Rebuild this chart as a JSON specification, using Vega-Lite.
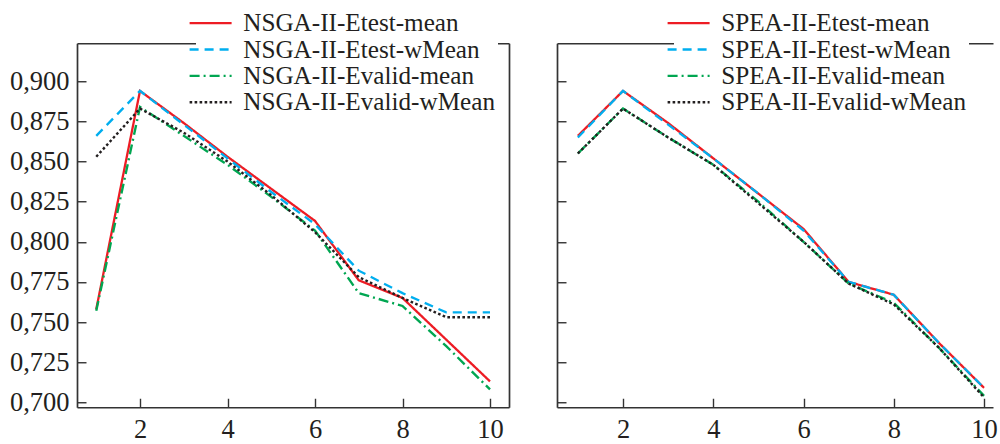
{
  "$schema": "https://vega.github.io/schema/vega-lite/v6.json",
  "autosize": {"type": "pad"},
  "padding": {"left": 9, "top": 8.25, "right": 0, "bottom": 0},
  "background": "white",
  "config": {
    "view": {"stroke": null},
    "axis": {
      "grid": false,
      "title": null,
      "domainColor": "#333333",
      "domainWidth": 1.7,
      "tickColor": "#333333",
      "tickWidth": 1.4
    }
  },
  "spacing": 48,
  "bounds": "flush",
  "datasets": {
    "nsga": [
      {"n": 1, "series": "NSGA-II-Etest-mean", "value": 0.758},
      {"n": 2, "series": "NSGA-II-Etest-mean", "value": 0.894},
      {"n": 3, "series": "NSGA-II-Etest-mean", "value": 0.874},
      {"n": 4, "series": "NSGA-II-Etest-mean", "value": 0.853},
      {"n": 5, "series": "NSGA-II-Etest-mean", "value": 0.833},
      {"n": 6, "series": "NSGA-II-Etest-mean", "value": 0.813},
      {"n": 7, "series": "NSGA-II-Etest-mean", "value": 0.776},
      {"n": 8, "series": "NSGA-II-Etest-mean", "value": 0.765},
      {"n": 9, "series": "NSGA-II-Etest-mean", "value": 0.739},
      {"n": 10, "series": "NSGA-II-Etest-mean", "value": 0.713},
      {"n": 1, "series": "NSGA-II-Etest-wMean", "value": 0.866},
      {"n": 2, "series": "NSGA-II-Etest-wMean", "value": 0.894},
      {"n": 3, "series": "NSGA-II-Etest-wMean", "value": 0.873},
      {"n": 4, "series": "NSGA-II-Etest-wMean", "value": 0.852},
      {"n": 5, "series": "NSGA-II-Etest-wMean", "value": 0.831},
      {"n": 6, "series": "NSGA-II-Etest-wMean", "value": 0.811},
      {"n": 7, "series": "NSGA-II-Etest-wMean", "value": 0.782},
      {"n": 8, "series": "NSGA-II-Etest-wMean", "value": 0.768},
      {"n": 9, "series": "NSGA-II-Etest-wMean", "value": 0.756},
      {"n": 10, "series": "NSGA-II-Etest-wMean", "value": 0.756},
      {"n": 1, "series": "NSGA-II-Evalid-mean", "value": 0.757},
      {"n": 2, "series": "NSGA-II-Evalid-mean", "value": 0.884},
      {"n": 3, "series": "NSGA-II-Evalid-mean", "value": 0.866},
      {"n": 4, "series": "NSGA-II-Evalid-mean", "value": 0.848},
      {"n": 5, "series": "NSGA-II-Evalid-mean", "value": 0.828},
      {"n": 6, "series": "NSGA-II-Evalid-mean", "value": 0.807},
      {"n": 7, "series": "NSGA-II-Evalid-mean", "value": 0.768},
      {"n": 8, "series": "NSGA-II-Evalid-mean", "value": 0.760},
      {"n": 9, "series": "NSGA-II-Evalid-mean", "value": 0.735},
      {"n": 10, "series": "NSGA-II-Evalid-mean", "value": 0.708},
      {"n": 1, "series": "NSGA-II-Evalid-wMean", "value": 0.853},
      {"n": 2, "series": "NSGA-II-Evalid-wMean", "value": 0.883},
      {"n": 3, "series": "NSGA-II-Evalid-wMean", "value": 0.868},
      {"n": 4, "series": "NSGA-II-Evalid-wMean", "value": 0.850},
      {"n": 5, "series": "NSGA-II-Evalid-wMean", "value": 0.829},
      {"n": 6, "series": "NSGA-II-Evalid-wMean", "value": 0.806},
      {"n": 7, "series": "NSGA-II-Evalid-wMean", "value": 0.778},
      {"n": 8, "series": "NSGA-II-Evalid-wMean", "value": 0.765},
      {"n": 9, "series": "NSGA-II-Evalid-wMean", "value": 0.753},
      {"n": 10, "series": "NSGA-II-Evalid-wMean", "value": 0.753}
    ],
    "spea": [
      {"n": 1, "series": "SPEA-II-Etest-mean", "value": 0.866},
      {"n": 2, "series": "SPEA-II-Etest-mean", "value": 0.894},
      {"n": 3, "series": "SPEA-II-Etest-mean", "value": 0.874},
      {"n": 4, "series": "SPEA-II-Etest-mean", "value": 0.852},
      {"n": 5, "series": "SPEA-II-Etest-mean", "value": 0.830},
      {"n": 6, "series": "SPEA-II-Etest-mean", "value": 0.808},
      {"n": 7, "series": "SPEA-II-Etest-mean", "value": 0.775},
      {"n": 8, "series": "SPEA-II-Etest-mean", "value": 0.767},
      {"n": 9, "series": "SPEA-II-Etest-mean", "value": 0.737},
      {"n": 10, "series": "SPEA-II-Etest-mean", "value": 0.709},
      {"n": 1, "series": "SPEA-II-Etest-wMean", "value": 0.865},
      {"n": 2, "series": "SPEA-II-Etest-wMean", "value": 0.894},
      {"n": 3, "series": "SPEA-II-Etest-wMean", "value": 0.873},
      {"n": 4, "series": "SPEA-II-Etest-wMean", "value": 0.852},
      {"n": 5, "series": "SPEA-II-Etest-wMean", "value": 0.830},
      {"n": 6, "series": "SPEA-II-Etest-wMean", "value": 0.807},
      {"n": 7, "series": "SPEA-II-Etest-wMean", "value": 0.775},
      {"n": 8, "series": "SPEA-II-Etest-wMean", "value": 0.767},
      {"n": 9, "series": "SPEA-II-Etest-wMean", "value": 0.737},
      {"n": 10, "series": "SPEA-II-Etest-wMean", "value": 0.709},
      {"n": 1, "series": "SPEA-II-Evalid-mean", "value": 0.855},
      {"n": 2, "series": "SPEA-II-Evalid-mean", "value": 0.883},
      {"n": 3, "series": "SPEA-II-Evalid-mean", "value": 0.865},
      {"n": 4, "series": "SPEA-II-Evalid-mean", "value": 0.848},
      {"n": 5, "series": "SPEA-II-Evalid-mean", "value": 0.825},
      {"n": 6, "series": "SPEA-II-Evalid-mean", "value": 0.800},
      {"n": 7, "series": "SPEA-II-Evalid-mean", "value": 0.774},
      {"n": 8, "series": "SPEA-II-Evalid-mean", "value": 0.762},
      {"n": 9, "series": "SPEA-II-Evalid-mean", "value": 0.734},
      {"n": 10, "series": "SPEA-II-Evalid-mean", "value": 0.704},
      {"n": 1, "series": "SPEA-II-Evalid-wMean", "value": 0.855},
      {"n": 2, "series": "SPEA-II-Evalid-wMean", "value": 0.883},
      {"n": 3, "series": "SPEA-II-Evalid-wMean", "value": 0.865},
      {"n": 4, "series": "SPEA-II-Evalid-wMean", "value": 0.848},
      {"n": 5, "series": "SPEA-II-Evalid-wMean", "value": 0.824},
      {"n": 6, "series": "SPEA-II-Evalid-wMean", "value": 0.800},
      {"n": 7, "series": "SPEA-II-Evalid-wMean", "value": 0.774},
      {"n": 8, "series": "SPEA-II-Evalid-wMean", "value": 0.761},
      {"n": 9, "series": "SPEA-II-Evalid-wMean", "value": 0.734},
      {"n": 10, "series": "SPEA-II-Evalid-wMean", "value": 0.703}
    ]
  },
  "hconcat": [
    {
      "width": 432,
      "height": 364,
      "data": {"name": "nsga"},
      "layer": [
        {
          "mark": {"type": "line"},
          "encoding": {
            "x": {"field": "n", "type": "quantitative",
              "scale": {"domain": [0.56, 10.434], "nice": false, "zero": false},
              "axis": {"orient": "bottom", "values": [2, 4, 6, 8, 10], "tickSize": -9, "labelPadding": 18, "labelFont": "Liberation Serif", "labelFontSize": 26.5, "labelColor": "#231f20"}},
            "y": {"field": "value", "type": "quantitative",
              "scale": {"domain": [0.6969, 0.9237], "nice": false, "zero": false},
              "axis": {"orient": "left", "values": [0.7, 0.725, 0.75, 0.775, 0.8, 0.825, 0.85, 0.875, 0.9], "tickSize": -9, "labelPadding": 17, "labelFont": "Liberation Serif", "labelFontSize": 26.5, "labelColor": "#231f20", "labelExpr": "replace(format(datum.value, '.3f'), '.', ',')"}},
            "color": {"field": "series", "type": "nominal",
              "scale": {"domain": ["NSGA-II-Etest-mean", "NSGA-II-Etest-wMean", "NSGA-II-Evalid-mean", "NSGA-II-Evalid-wMean"], "range": ["#ed1c24", "#00aeef", "#00a651", "#231f20"]},
              "legend": {"orient": "none", "legendX": 119, "legendY": -34.75, "title": null, "fillColor": "white", "padding": 2, "symbolType": "M-4.2,0H4.2", "symbolSize": 100, "symbolStrokeWidth": 2.5, "labelFont": "Liberation Serif", "labelFontSize": 25.2, "labelColor": "#231f20", "labelOffset": 20, "rowPadding": 0.4, "labelLimit": 500}},
            "strokeDash": {"field": "series", "type": "nominal",
              "scale": {"domain": ["NSGA-II-Etest-mean", "NSGA-II-Etest-wMean", "NSGA-II-Evalid-mean", "NSGA-II-Evalid-wMean"], "range": [[1, 0], [9, 6], [10, 4, 2, 4], [2.6, 2.4]]},
              "legend": {"orient": "none", "legendX": 119, "legendY": -34.75, "title": null, "fillColor": "white", "padding": 2, "symbolType": "M-4.2,0H4.2", "symbolSize": 100, "symbolStrokeWidth": 2.5, "labelFont": "Liberation Serif", "labelFontSize": 25.2, "labelColor": "#231f20", "labelOffset": 20, "rowPadding": 0.4, "labelLimit": 500}},
            "strokeWidth": {"field": "series", "type": "nominal",
              "scale": {"domain": ["NSGA-II-Etest-mean", "NSGA-II-Etest-wMean", "NSGA-II-Evalid-mean", "NSGA-II-Evalid-wMean"], "range": [2.3, 2.4, 2.4, 3.2]},
              "legend": null}
          }
        },
        {
          "mark": {"type": "point", "opacity": 0},
          "encoding": {
            "x": {"field": "n", "type": "quantitative",
              "scale": {"domain": [0.56, 10.434], "nice": false, "zero": false},
              "axis": {"orient": "top", "labels": false, "ticks": false}},
            "y": {"field": "value", "type": "quantitative",
              "scale": {"domain": [0.6969, 0.9237], "nice": false, "zero": false},
              "axis": {"orient": "right", "labels": false, "ticks": false}}
          }
        }
      ],
      "resolve": {"axis": {"x": "independent", "y": "independent"}}
    },
    {
      "width": 436,
      "height": 364,
      "data": {"name": "spea"},
      "layer": [
        {
          "mark": {"type": "line"},
          "encoding": {
            "x": {"field": "n", "type": "quantitative",
              "scale": {"domain": [0.5374, 10.199], "nice": false, "zero": false},
              "axis": {"orient": "bottom", "values": [2, 4, 6, 8, 10], "tickSize": -9, "labelPadding": 18, "labelFont": "Liberation Serif", "labelFontSize": 26.5, "labelColor": "#231f20"}},
            "y": {"field": "value", "type": "quantitative",
              "scale": {"domain": [0.6969, 0.9237], "nice": false, "zero": false},
              "axis": {"orient": "left", "values": [0.7, 0.725, 0.75, 0.775, 0.8, 0.825, 0.85, 0.875, 0.9], "tickSize": -9, "labels": false}},
            "color": {"field": "series", "type": "nominal",
              "scale": {"domain": ["SPEA-II-Etest-mean", "SPEA-II-Etest-wMean", "SPEA-II-Evalid-mean", "SPEA-II-Evalid-wMean"], "range": ["#ed1c24", "#00aeef", "#00a651", "#231f20"]},
              "legend": {"orient": "none", "legendX": 117, "legendY": -34.75, "title": null, "fillColor": "white", "padding": 2, "symbolType": "M-4.2,0H4.2", "symbolSize": 100, "symbolStrokeWidth": 2.5, "labelFont": "Liberation Serif", "labelFontSize": 25.2, "labelColor": "#231f20", "labelOffset": 20, "rowPadding": 0.4, "labelLimit": 500}},
            "strokeDash": {"field": "series", "type": "nominal",
              "scale": {"domain": ["SPEA-II-Etest-mean", "SPEA-II-Etest-wMean", "SPEA-II-Evalid-mean", "SPEA-II-Evalid-wMean"], "range": [[1, 0], [9, 6], [10, 4, 2, 4], [2.6, 2.4]]},
              "legend": {"orient": "none", "legendX": 117, "legendY": -34.75, "title": null, "fillColor": "white", "padding": 2, "symbolType": "M-4.2,0H4.2", "symbolSize": 100, "symbolStrokeWidth": 2.5, "labelFont": "Liberation Serif", "labelFontSize": 25.2, "labelColor": "#231f20", "labelOffset": 20, "rowPadding": 0.4, "labelLimit": 500}},
            "strokeWidth": {"field": "series", "type": "nominal",
              "scale": {"domain": ["SPEA-II-Etest-mean", "SPEA-II-Etest-wMean", "SPEA-II-Evalid-mean", "SPEA-II-Evalid-wMean"], "range": [2.3, 2.4, 2.4, 3.2]},
              "legend": null}
          }
        },
        {
          "mark": {"type": "point", "opacity": 0},
          "encoding": {
            "x": {"field": "n", "type": "quantitative",
              "scale": {"domain": [0.5374, 10.199], "nice": false, "zero": false},
              "axis": {"orient": "top", "labels": false, "ticks": false}},
            "y": {"field": "value", "type": "quantitative",
              "scale": {"domain": [0.6969, 0.9237], "nice": false, "zero": false},
              "axis": null}
          }
        }
      ],
      "resolve": {"axis": {"x": "independent", "y": "independent"}}
    }
  ],
  "resolve": {"scale": {"color": "independent", "strokeDash": "independent", "strokeWidth": "independent", "x": "independent", "y": "independent"}, "legend": {"color": "independent", "strokeDash": "independent"}}
}
